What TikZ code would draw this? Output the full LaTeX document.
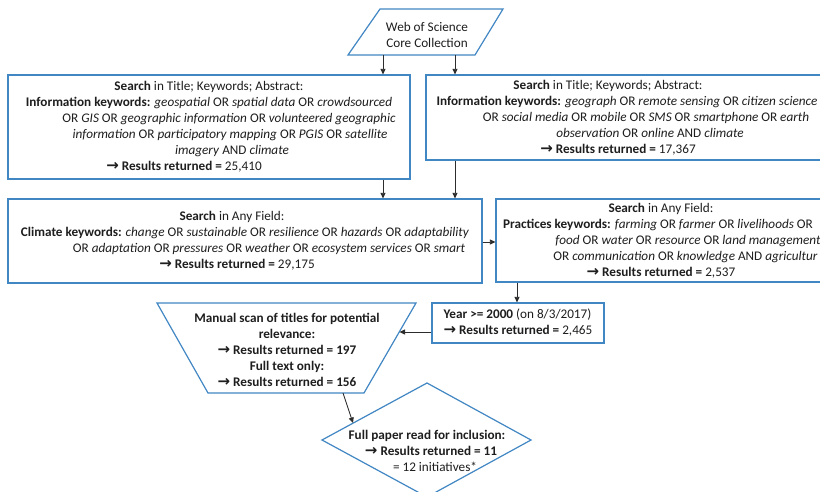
\documentclass[tikz,border=0pt]{standalone}
\usepackage{fontspec}
\setmainfont{Carlito}
\newfontfamily\symf{DejaVu Sans}
\usetikzlibrary{arrows.meta}
\definecolor{bbl}{RGB}{65,135,195}
\definecolor{txt}{RGB}{30,30,30}
\definecolor{lnc}{RGB}{45,45,45}
\newcommand{\myarr}{{\fontsize{15}{16}\symf\bfseries\char"2192}}
\newcommand{\myfs}{\fontsize{13.2}{16}\selectfont}
\begin{document}
\begin{tikzpicture}[x=1pt,y=-1pt,
  box/.style={draw=bbl, line width=1.2pt, rectangle, inner sep=0pt, align=center, font=\myfs, text=txt},
  plain/.style={inner sep=0pt, align=center, font=\myfs, text=txt},
  shp/.style={draw=bbl, line width=1.2pt, line join=miter},
  arr/.style={draw=lnc, line width=0.8pt, -{Triangle[length=5.5pt,width=5pt]}}]
\clip (0,0) rectangle (820,492);
\fill[white] (0,0) rectangle (820,492);

% Web of Science parallelogram
\draw[shp] (380,9) -- (503,9) -- (475,55) -- (348,55) -- cycle;
\node[plain] (web) at (427,34.5) {Web of Science\\Core Collection};
\coordinate (wb1) at (383,55);
\coordinate (wb2) at (455,55);

% Box 1
\node[box, minimum width=402pt, minimum height=104pt] (b1) at (209,127) {%
\textbf{Search} in Title; Keywords; Abstract:\\
\textbf{Information keywords:} \textit{geospatial} OR \textit{spatial data} OR \textit{crowdsourced}\\
\hspace*{40pt}OR \textit{GIS} OR \textit{geographic information} OR \textit{volunteered geographic}\\
\hspace*{42pt}\textit{information} OR \textit{participatory mapping} OR \textit{PGIS} OR \textit{satellite}\\
\hspace*{46pt}\textit{imagery} AND \textit{climate}\\
\textbf{\myarr\ Results returned =} 25,410\hspace*{50pt}\mbox{}};

% Box 2
\node[box, minimum width=424pt, minimum height=85pt] (b2) at (638,117.5) {%
\textbf{Search} in Title; Keywords; Abstract:\hspace*{60pt}\mbox{}\\
\textbf{Information keywords:} \textit{geograph} OR \textit{remote sensing} OR \textit{citizen science}\hspace*{22pt}\mbox{}\\
\hspace*{16pt}OR \textit{social media} OR \textit{mobile} OR \textit{SMS} OR \textit{smartphone} OR \textit{earth}\\
\hspace*{24pt}\textit{observation} OR \textit{online} AND \textit{climate}\\
\textbf{\myarr\ Results returned =} 17,367\hspace*{40pt}\mbox{}};

% Box 3
\node[box, minimum width=474pt, minimum height=84pt] (b3) at (245,241) {%
\textbf{Search} in Any Field:\hspace*{26pt}\mbox{}\\
\textbf{Climate keywords:} \textit{change} OR \textit{sustainable} OR \textit{resilience} OR \textit{hazards} OR \textit{adaptability}\\
\hspace*{48pt}OR \textit{adaptation} OR \textit{pressures} OR \textit{weather} OR \textit{ecosystem services} OR \textit{smart}\\
\textbf{\myarr\ Results returned =} 29,175\hspace*{16pt}\mbox{}};

% Box 4
\node[box, minimum width=364pt, minimum height=83pt] (b4) at (678,240.5) {%
\textbf{Search} in Any Field:\hspace*{34pt}\mbox{}\\
\textbf{Practices keywords:} \textit{farming} OR \textit{farmer} OR \textit{livelihoods} OR\hspace*{40pt}\mbox{}\\
\hspace*{20pt}\textit{food} OR \textit{water} OR \textit{resource} OR \textit{land management}\\
\hspace*{15pt}OR \textit{communication} OR \textit{knowledge} AND \textit{agricultur}\\
\textbf{\myarr\ Results returned =} 2,537\hspace*{34pt}\mbox{}};

% Year box
\node[box, align=left, minimum width=172pt, minimum height=40pt] (yr) at (518,323) {%
\textbf{Year >= 2000} (on 8/3/2017)\\
\textbf{\myarr\ Results returned =} 2,465};

% Manual scan trapezoid
\draw[shp] (157,303) -- (416,303) -- (364,393) -- (208,393) -- cycle;
\node[plain, font=\myfs\bfseries] (man) at (287,350) {%
Manual scan of titles for potential\\
relevance:\\
\myarr\ Results returned = 197\\
Full text only:\\
\myarr\ Results returned = 156};
\coordinate (trR) at (399.5,332);
\coordinate (trB) at (343,393);

% Diamond
\draw[shp] (322,440) -- (427,383) -- (531,440) -- (427,497) -- cycle;
\node[plain] (dia) at (427,451) {%
\textbf{Full paper read for inclusion:}\\
\hspace*{8pt}\textbf{\myarr\ Results returned = 11}\\
\hspace*{16pt}= 12 initiatives*};
\coordinate (dmT) at (353,423);

% connectors
\draw[arr] (wb1) -- (b1.north -| wb1);
\draw[arr] (wb2) -- (b2.north -| wb2);
\draw[arr] (b1.south -| wb1) -- (b3.north -| wb1);
\draw[arr] (b2.south -| wb2) -- (b3.north -| wb2);
\draw[arr] (b3.east |- 0,242) -- (b4.west |- 0,242);
\draw[arr] (b4.south -| 517,0) -- (yr.north -| 517,0);
\draw[arr] (yr.west |- trR) -- (trR);
\draw[arr] (trB) -- (dmT);
\end{tikzpicture}
\end{document}
